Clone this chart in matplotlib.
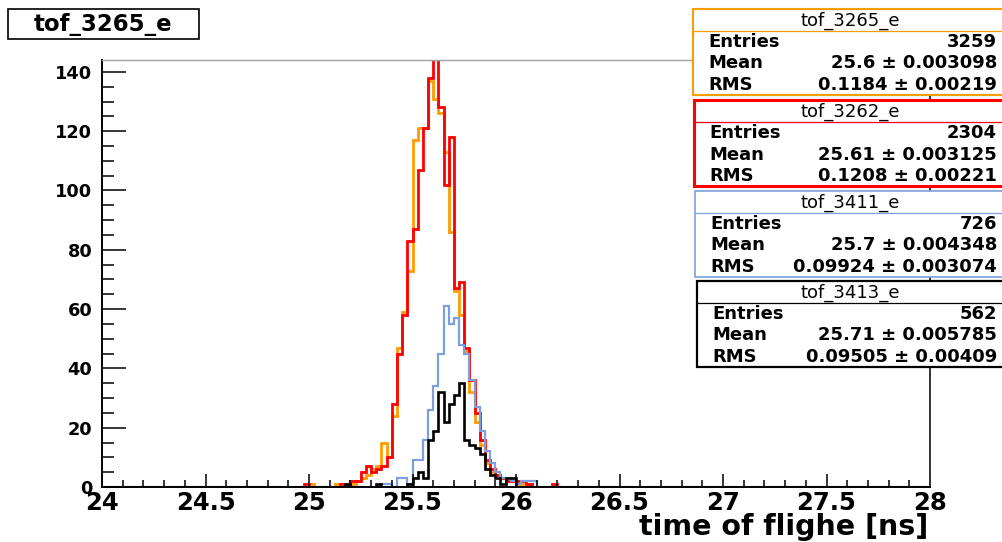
import numpy as np
import matplotlib
matplotlib.use("Agg")
from matplotlib import pyplot as plt
from matplotlib.patches import Rectangle
from matplotlib.ticker import MultipleLocator, FuncFormatter

plt.rcParams["font.family"] = ["DejaVu Sans"]
plt.rcParams["font.weight"] = "bold"

BIN_WIDTH = 0.025
X_MIN, X_MAX = 24.0, 28.0
Y_MAX = 144

# counts per 0.025 ns bin, starting at the given left bin edge
ORANGE_START = 25.0
ORANGE_COUNTS = [1, 0, 0, 0, 0, 1, 0, 1, 1, 2, 3, 4, 6, 7, 15, 10, 24, 47, 59, 73,
                 117, 121, 121, 137, 131, 126, 113, 86, 66, 58, 46, 32, 22, 14, 8,
                 5, 4, 3, 2, 2, 1, 1, 1]
RED_START = 24.975
RED_COUNTS = [1, 0, 0, 0, 0, 0, 0, 1, 1, 2, 2, 5, 7, 5, 6, 7, 10, 28, 45, 58, 83,
              87, 107, 121, 138, 146, 128, 102, 118, 67, 69, 47, 36, 25, 16, 9, 6,
              4, 3, 2, 2, 2, 2, 1, 0, 0, 0, 0, 1]
BLUE_START = 25.35
BLUE_COUNTS = [1, 1, 0, 3, 3, 1, 9, 9, 16, 26, 34, 45, 61, 55, 57, 48, 45, 36, 27,
               19, 12, 8, 5, 3, 3, 2, 1, 2, 2, 2]
BLACK_START = 25.175
BLACK_COUNTS = [1, 0, 0, 0, 0, 0, 1, 0, 0, 0, 0, 0, 1, 3, 5, 3, 16, 19, 32, 22, 28,
                31, 35, 16, 14, 13, 11, 6, 4, 3, 1, 3, 3]

NAMES = ["tof_3265_e", "tof_3262_e", "tof_3411_e", "tof_3413_e"]
ENTRIES = ["3259", "2304", "726", "562"]
MEANS = ["25.6 \u00b1 0.003098", "25.61 \u00b1 0.003125",
         "25.7 \u00b1 0.004348", "25.71 \u00b1 0.005785"]
RMS = ["0.1184 \u00b1 0.00219", "0.1208 \u00b1 0.00221",
       "0.09924 \u00b1 0.003074", "0.09505 \u00b1 0.00409"]
COLORS = ["#ff9c00", "#ff0000", "#7d9fdc", "#000000"]
LINE_WIDTHS = [2.0, 2.0, 1.6, 1.9]

edges = np.linspace(X_MIN, X_MAX, int(round((X_MAX - X_MIN) / BIN_WIDTH)) + 1)


def full_counts(start, counts):
    out = np.zeros(len(edges) - 1)
    i0 = int(round((start - X_MIN) / BIN_WIDTH))
    out[i0:i0 + len(counts)] = counts
    return out


W, H = 1002, 542
fig = plt.figure(figsize=(W / 100, H / 100), dpi=100)
ax = fig.add_axes([102 / W, 55 / H, 828 / W, 427 / H])

series = [(ORANGE_START, ORANGE_COUNTS), (RED_START, RED_COUNTS),
          (BLUE_START, BLUE_COUNTS), (BLACK_START, BLACK_COUNTS)]
for (start, counts), color, lw in zip(series, COLORS, LINE_WIDTHS):
    ax.stairs(full_counts(start, counts), edges, color=color, linewidth=lw)

ax.set_xlim(X_MIN, X_MAX)
ax.set_ylim(0, Y_MAX)
ax.xaxis.set_major_locator(MultipleLocator(0.5))
ax.xaxis.set_minor_locator(MultipleLocator(0.1))
ax.yaxis.set_major_locator(MultipleLocator(20))
ax.yaxis.set_minor_locator(MultipleLocator(5))
ax.xaxis.set_major_formatter(FuncFormatter(lambda v, p: f"{v:g}"))
ax.tick_params(axis="x", which="major", direction="in", length=9.5, width=1.1,
               labelsize=17.5, pad=3)
ax.tick_params(axis="x", which="minor", direction="in", length=4.8, width=1.1)
ax.tick_params(axis="y", which="major", direction="in", length=17, width=1.1,
               labelsize=12.8, pad=7)
ax.tick_params(axis="y", which="minor", direction="in", length=8.5, width=1.1)
ax.spines["left"].set_linewidth(1.4)
ax.spines["bottom"].set_linewidth(1.4)
ax.spines["top"].set_color("#a0a0a0")
ax.spines["top"].set_linewidth(1.0)
ax.spines["right"].set_color("#333333")
ax.spines["right"].set_linewidth(1.4)

# overlay in pixel coordinates for title, stat boxes and axis title
ov = fig.add_axes([0, 0, 1, 1])
ov.set_xlim(0, W)
ov.set_ylim(H, 0)
ov.axis("off")

ov.add_patch(Rectangle((8, 9), 191, 30, facecolor="white", edgecolor="black",
                       linewidth=1.2))
ov.text(103.5, 24.5, NAMES[0], ha="center", va="center", fontsize=16.5)

ov.text(928, 535, "time of flighe [ns]", ha="right", va="baseline", fontsize=20.5)

box_tops = [9, 100, 191, 281]
box_lefts = [693, 694, 695, 697]
box_lw = [1.5, 2.2, 1.2, 1.6]
for i, name in enumerate(NAMES):
    top, left = box_tops[i], box_lefts[i]
    ov.add_patch(Rectangle((left, top), W + 5 - left, 86, facecolor="white",
                           edgecolor=COLORS[i], linewidth=box_lw[i]))
    ov.plot([left, W], [top + 22, top + 22], color=COLORS[i], linewidth=0.9)
    ov.text(850, top + 11.5, name, ha="center", va="center", fontsize=13,
            fontweight="normal")
    rows = [("Entries", ENTRIES[i]), ("Mean", MEANS[i]), ("RMS", RMS[i])]
    for j, (label, value) in enumerate(rows):
        y = top + 33 + 21.5 * j
        ov.text(left + 15, y, label, ha="left", va="center", fontsize=13)
        ov.text(997, y, value, ha="right", va="center", fontsize=13)

fig.savefig("out.png", dpi=100)
